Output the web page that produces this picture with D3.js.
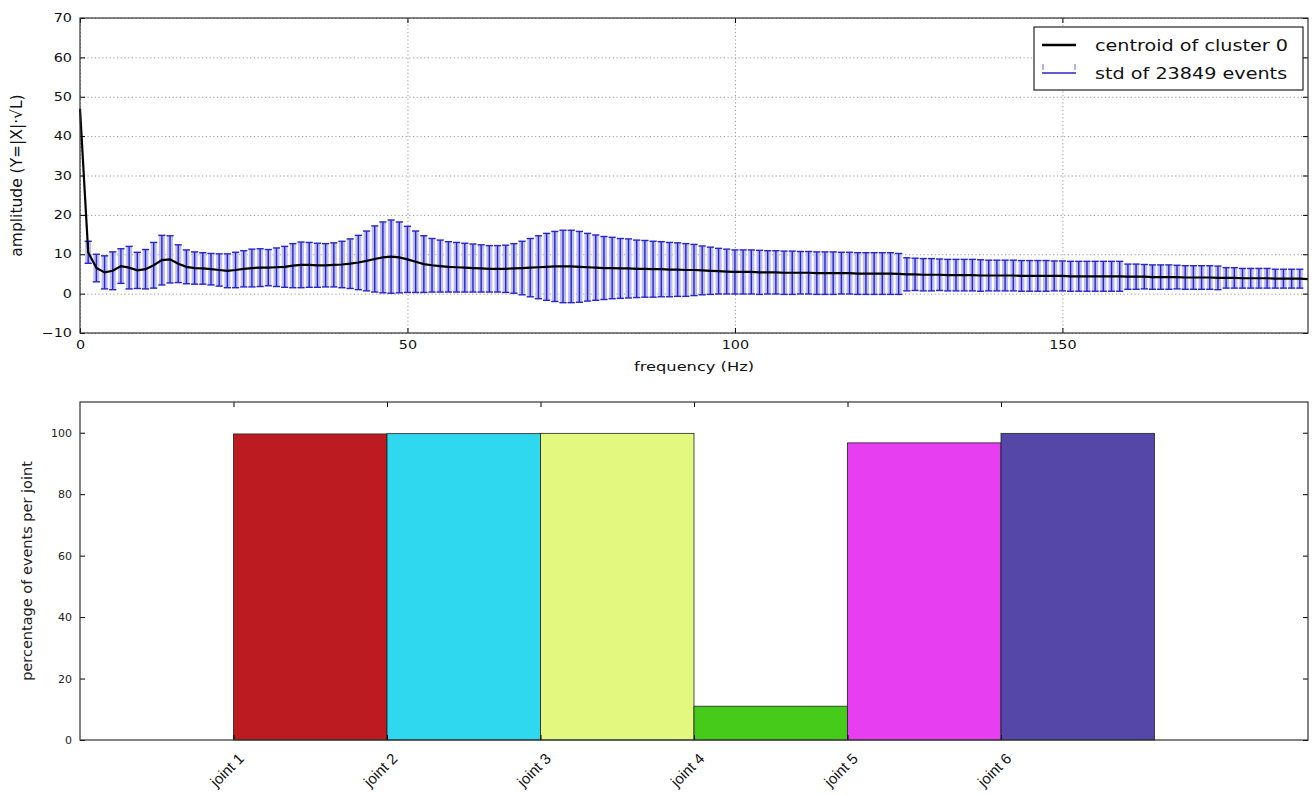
<!DOCTYPE html>
<html><head><meta charset="utf-8">
<script src="https://cdn.jsdelivr.net/npm/d3@7/dist/d3.min.js"></script>
<style>
body{margin:0;background:#fff;}
svg{display:block;font-family:"DejaVu Sans",sans-serif;}
</style></head>
<body>
<svg id="c" width="1314" height="795"></svg>
<script>
// ---------- DATA ----------
const freqHz = [0,1.25,2.5,3.75,5,6.25,7.5,8.75,10,11.25,12.5,13.75,15,16.25,17.5,18.75,20,21.25,22.5,23.75,25,26.25,27.5,28.75,30,31.25,32.5,33.75,35,36.25,37.5,38.75,40,41.25,42.5,43.75,45,46.25,47.5,48.75,50,51.25,52.5,53.75,55,56.25,57.5,58.75,60,61.25,62.5,63.75,65,66.25,67.5,68.75,70,71.25,72.5,73.75,75,76.25,77.5,78.75,80,81.25,82.5,83.75,85,86.25,87.5,88.75,90,91.25,92.5,93.75,95,96.25,97.5,98.75,100,101.25,102.5,103.75,105,106.25,107.5,108.75,110,111.25,112.5,113.75,115,116.25,117.5,118.75,120,121.25,122.5,123.75,125,126.25,127.5,128.75,130,131.25,132.5,133.75,135,136.25,137.5,138.75,140,141.25,142.5,143.75,145,146.25,147.5,148.75,150,151.25,152.5,153.75,155,156.25,157.5,158.75,160,161.25,162.5,163.75,165,166.25,167.5,168.75,170,171.25,172.5,173.75,175,176.25,177.5,178.75,180,181.25,182.5,183.75,185,186.25,187.5];

const centroid = [47.0,10.5,6.5,5.4,5.8,7.0,6.6,5.9,6.2,7.2,8.5,8.7,7.6,6.8,6.5,6.4,6.2,6.0,5.8,6.0,6.3,6.5,6.6,6.6,6.7,6.8,7.1,7.3,7.3,7.2,7.2,7.3,7.4,7.6,7.9,8.3,8.8,9.2,9.4,9.2,8.7,8.1,7.5,7.2,7.0,6.8,6.7,6.6,6.5,6.4,6.3,6.3,6.3,6.4,6.5,6.6,6.7,6.8,6.9,6.9,6.9,6.8,6.7,6.6,6.5,6.5,6.4,6.4,6.3,6.3,6.2,6.2,6.1,6.1,6.0,6.0,5.9,5.8,5.7,5.6,5.5,5.5,5.5,5.4,5.4,5.4,5.3,5.3,5.3,5.3,5.2,5.2,5.2,5.2,5.2,5.1,5.1,5.1,5.1,5.1,5.0,4.9,4.9,4.8,4.8,4.8,4.7,4.7,4.7,4.7,4.6,4.6,4.6,4.6,4.6,4.5,4.5,4.5,4.5,4.5,4.5,4.4,4.4,4.4,4.4,4.4,4.4,4.4,4.3,4.3,4.3,4.2,4.2,4.2,4.2,4.1,4.1,4.1,4.1,4.0,4.0,4.0,3.9,3.9,3.9,3.9,3.8,3.8,3.8,3.8,3.7];

// std of the DC bin is not drawn in the reference (0 = no bar)
const stdDev = [0,2.8,3.5,4.2,4.8,4.4,5.4,4.6,5.0,5.8,6.3,6.0,4.8,4.3,4.1,4.0,4.0,4.1,4.3,4.5,4.6,4.8,4.8,4.6,4.9,5.2,5.6,5.8,5.7,5.6,5.5,5.6,5.9,6.3,6.9,7.6,8.4,9.0,9.3,9.0,8.4,7.8,7.2,6.8,6.6,6.4,6.3,6.2,6.1,6.0,5.9,5.9,6.0,6.3,6.8,7.4,8.0,8.5,8.9,9.2,9.2,9.0,8.6,8.3,8.0,7.8,7.6,7.5,7.3,7.2,7.1,7.0,6.9,6.8,6.7,6.5,6.2,6.0,5.8,5.7,5.6,5.6,5.6,5.6,5.5,5.5,5.5,5.5,5.4,5.4,5.4,5.4,5.4,5.3,5.3,5.3,5.3,5.3,5.3,5.3,5.2,4.2,4.1,4.1,4.1,4.0,4.0,4.0,4.0,4.0,4.0,3.9,3.9,3.9,3.9,3.9,3.9,3.9,3.9,3.8,3.8,3.8,3.8,3.8,3.8,3.8,3.8,3.8,3.2,3.2,3.1,3.1,3.1,3.1,3.0,3.0,3.0,3.0,3.0,3.0,2.6,2.6,2.5,2.5,2.5,2.5,2.4,2.4,2.4,2.4];

const freqTicks = [0,50,100,150];
const ampTicks = [-10,0,10,20,30,40,50,60,70];
const legendLabels = ["centroid of cluster 0","std of 23849 events"];

const joints = ["joint 1","joint 2","joint 3","joint 4","joint 5","joint 6"];
const jointPos = [1,2,3,4,5,6];
const jointPct = [99.6,99.7,99.8,11.0,96.7,99.8];
const jointColors = ["#bd1b22","#30d8ef","#e2f87e","#46cb1b","#e63ef0","#5447a7"];
const pctTicks = [0,20,40,60,80,100];

// ---------- LAYOUT ----------
const svg = d3.select("#c");
const L = 80, R = 1308;
const top1 = {t:18, b:333};
const top2 = {t:402, b:740};
const SX = 1.25; // horizontal stretch of the reference's text

// ---------- TOP CHART ----------
const x1 = d3.scaleLinear().domain([0,187.5]).range([L,R]);
const y1 = d3.scaleLinear().domain([-10,70]).range([top1.b, top1.t]);
const g1 = svg.append("g");

// grid
g1.append("g").attr("transform",`translate(0,${top1.b})`)
  .call(d3.axisBottom(x1).tickValues(freqTicks).tickSize(-(top1.b-top1.t)).tickFormat(""))
  .call(g=>g.select(".domain").remove())
  .selectAll("line").attr("stroke","#999").attr("stroke-dasharray","1.2,2.5").attr("stroke-width",1);
g1.append("g").attr("transform",`translate(${L},0)`)
  .call(d3.axisLeft(y1).tickValues(ampTicks).tickSize(-(R-L)).tickFormat(""))
  .call(g=>g.select(".domain").remove())
  .selectAll("line").attr("stroke","#999").attr("stroke-dasharray","1.2,2.5").attr("stroke-width",1);

// error bars
const eb = g1.append("g");
const pts = freqHz.map((f,i)=>({f, m:centroid[i], s:stdDev[i]}));
const bars = pts.filter(d=>d.s>0);
const blue = "#2626c8";
eb.selectAll("line.halo").data(bars).enter().append("line")
  .attr("x1",d=>x1(d.f)).attr("x2",d=>x1(d.f))
  .attr("y1",d=>y1(d.m+d.s)).attr("y2",d=>y1(d.m-d.s))
  .attr("stroke","#bcbcf2").attr("stroke-width",6);
eb.selectAll("line.v").data(bars).enter().append("line")
  .attr("x1",d=>x1(d.f)).attr("x2",d=>x1(d.f))
  .attr("y1",d=>y1(d.m+d.s)).attr("y2",d=>y1(d.m-d.s))
  .attr("stroke",blue).attr("stroke-width",1.4);
const capW = 3.6;
eb.selectAll("line.ct").data(bars).enter().append("line")
  .attr("x1",d=>x1(d.f)-capW).attr("x2",d=>x1(d.f)+capW)
  .attr("y1",d=>y1(d.m+d.s)).attr("y2",d=>y1(d.m+d.s))
  .attr("stroke",blue).attr("stroke-width",1.4);
eb.selectAll("line.cb").data(bars).enter().append("line")
  .attr("x1",d=>x1(d.f)-capW).attr("x2",d=>x1(d.f)+capW)
  .attr("y1",d=>y1(d.m-d.s)).attr("y2",d=>y1(d.m-d.s))
  .attr("stroke",blue).attr("stroke-width",1.4);

// centroid line
g1.append("path").datum(pts)
  .attr("d", d3.line().x(d=>x1(d.f)).y(d=>y1(d.m)))
  .attr("fill","none").attr("stroke","#000").attr("stroke-width",2.2);

// frame & ticks
function frame(g, xs, ys, t, b, xt, yt, xfmt, yfmt){
  g.append("g").attr("class","xb").attr("transform",`translate(0,${b})`)
    .call(d3.axisBottom(xs).tickValues(xt).tickSize(-5).tickPadding(8).tickFormat(xfmt))
    .call(s=>s.select(".domain").remove());
  g.append("g").attr("transform",`translate(0,${t})`)
    .call(d3.axisTop(xs).tickValues(xt).tickSize(-5).tickFormat(""))
    .call(s=>s.select(".domain").remove());
  g.append("g").attr("class","yl").attr("transform",`translate(${L},0)`)
    .call(d3.axisLeft(ys).tickValues(yt).tickSize(-5).tickPadding(8).tickFormat(yfmt))
    .call(s=>s.select(".domain").remove());
  g.append("g").attr("transform",`translate(${R},0)`)
    .call(d3.axisRight(ys).tickValues(yt).tickSize(-5).tickFormat(""))
    .call(s=>s.select(".domain").remove());
  g.append("rect").attr("x",L).attr("y",t).attr("width",R-L).attr("height",b-t)
    .attr("fill","none").attr("stroke","#333").attr("stroke-width",1.2);
}
frame(g1, x1, y1, top1.t, top1.b, freqTicks, ampTicks, d3.format("d"), d=>d<0?"\u2212"+Math.abs(d):d);
g1.selectAll(".tick text").attr("font-size",11.5).attr("fill","#111").attr("font-family","DejaVu Sans");
// stretch tick labels horizontally like the reference
g1.selectAll(".xb .tick text").attr("transform",`scale(${SX},1)`).attr("x",0);
g1.selectAll(".yl .tick text").attr("x",-8/SX).attr("transform",`scale(${SX},1)`);

g1.append("text").attr("transform",`translate(${(L+R)/2},371) scale(${SX},1)`).attr("text-anchor","middle")
  .attr("font-size",13).attr("fill","#111").text("frequency (Hz)");
g1.append("text").attr("transform",`translate(22,${(top1.t+top1.b)/2}) rotate(-90)`)
  .attr("text-anchor","middle").attr("font-size",15.5).attr("fill","#111")
  .text("amplitude (Y=|X|·√L)");

// legend
const lg = g1.append("g");
lg.append("rect").attr("x",1034).attr("y",27).attr("width",269).attr("height",63)
  .attr("fill","#fff").attr("stroke","#222").attr("stroke-width",1.2);
lg.append("line").attr("x1",1042).attr("x2",1076).attr("y1",45).attr("y2",45)
  .attr("stroke","#000").attr("stroke-width",2.5);
lg.append("line").attr("x1",1042).attr("x2",1076).attr("y1",73).attr("y2",73)
  .attr("stroke",blue).attr("stroke-width",1.5);
[1043,1075].forEach(xx=>lg.append("line").attr("x1",xx).attr("x2",xx).attr("y1",64).attr("y2",70)
  .attr("stroke","#9a9ae8").attr("stroke-width",1.5));
lg.selectAll("text.lt").data(legendLabels).enter().append("text")
  .attr("transform",(d,i)=>`translate(1095,${45+i*28}) scale(1.2,1)`).attr("dy","0.35em")
  .attr("font-size",16).attr("fill","#111").text(d=>d);

// ---------- BOTTOM CHART ----------
const x2 = d3.scaleLinear().domain([0,8]).range([L,R]);
const y2 = d3.scaleLinear().domain([0,110]).range([top2.b, top2.t]);
const g2 = svg.append("g");
g2.selectAll("rect.bar").data(joints).enter().append("rect")
  .attr("x",(d,i)=>x2(jointPos[i])).attr("width",(d,i)=>x2(jointPos[i]+1)-x2(jointPos[i]))
  .attr("y",(d,i)=>y2(jointPct[i])).attr("height",(d,i)=>y2(0)-y2(jointPct[i]))
  .attr("fill",(d,i)=>jointColors[i]).attr("stroke","#222").attr("stroke-width",0.8);

frame(g2, x2, y2, top2.t, top2.b, jointPos, pctTicks, (d,i)=>"", d=>d);
g2.selectAll(".tick text").attr("font-size",11).attr("fill","#222").attr("font-family","DejaVu Sans");

// rotated joint labels via axis
const xa = g2.append("g").attr("transform",`translate(0,${top2.b})`)
  .call(d3.axisBottom(x2).tickValues(jointPos).tickSize(0).tickFormat((d,i)=>joints[i]));
xa.select(".domain").remove();
xa.selectAll(".tick text").attr("font-size",15).attr("fill","#111")
  .attr("text-anchor","middle").attr("dy","0.35em").attr("y",0)
  .attr("transform","translate(-7,30) rotate(-45)");

g2.append("text").attr("transform",`translate(32,${(top2.t+top2.b)/2}) rotate(-90)`)
  .attr("text-anchor","middle").attr("font-size",14.5).attr("fill","#222")
  .text("percentage of events per joint");
</script>
</body></html>
